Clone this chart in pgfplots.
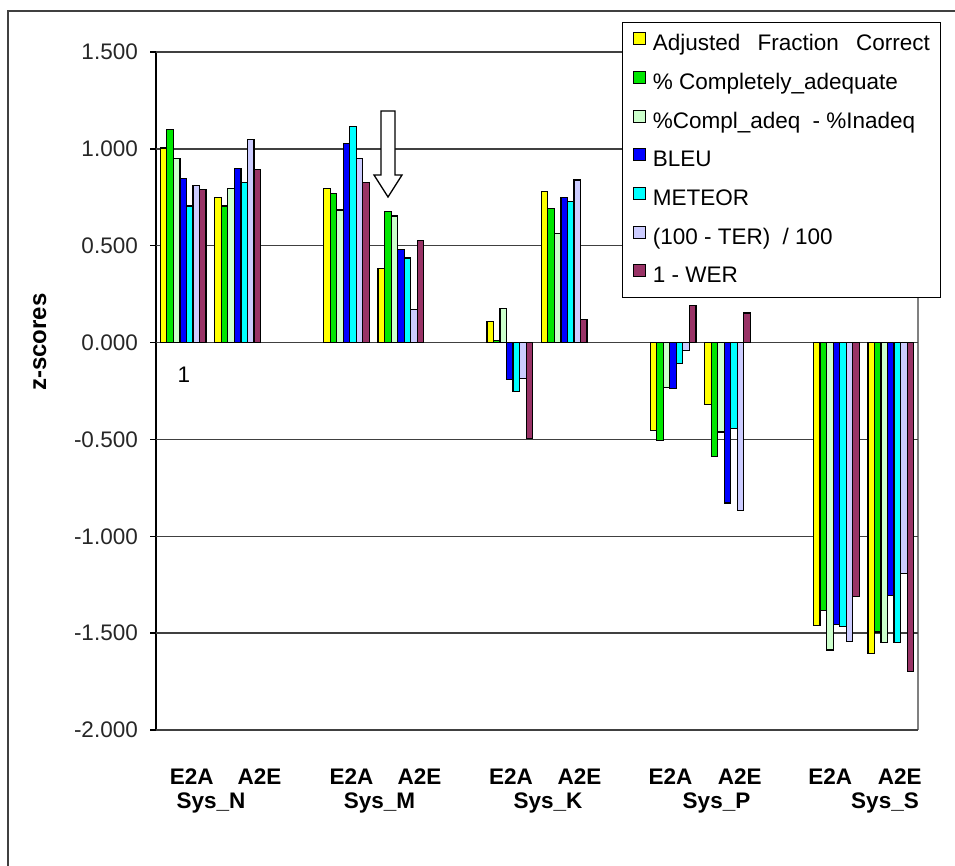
\documentclass[border=0pt]{standalone}
\usepackage{fontspec}
\setmainfont{Liberation Sans}
\usepackage{graphicx}
\usepackage{pgfplots}
\usepackage{pgfplotstable}
\pgfplotsset{compat=1.18}
\newcommand\F{\fontsize{22.5}{27}\selectfont}
\definecolor{cA}{HTML}{FFFF00}
\definecolor{cB}{HTML}{00E600}
\definecolor{cC}{HTML}{CCFFCC}
\definecolor{cD}{HTML}{0000FF}
\definecolor{cE}{HTML}{00FFFF}
\definecolor{cF}{HTML}{CCCCFF}
\definecolor{cG}{HTML}{993366}
\definecolor{gridc}{HTML}{404040}
\pgfplotstableread{
x   s1     s2     s3     s4     s5     s6     s7
0   1.004  1.100  0.952  0.847  0.705  0.809  0.789
1   0.749  0.705  0.795  0.900  0.825  1.048  0.893
3   0.794  0.770  0.684  1.027  1.117  0.952  0.825
4   0.383  0.675  0.653  0.481  0.437  0.169  0.526
6   0.107  0.010  0.174 -0.192 -0.251 -0.186 -0.496
7   0.780  0.691  0.564  0.749  0.728  0.839  0.120
9  -0.454 -0.507 -0.230 -0.237 -0.110 -0.041  0.191
10 -0.320 -0.588 -0.462 -0.828 -0.445 -0.866  0.153
12 -1.460 -1.385 -1.587 -1.455 -1.467 -1.544 -1.312
13 -1.605 -1.494 -1.550 -1.306 -1.550 -1.193 -1.700
}\datatable
\begin{document}
\begin{tikzpicture}
% outer frame
\draw[gridc, line width=1.3pt] (8pt,-11pt) rectangle (970pt,-880pt);
% axis lines (drawn before the legend)
\draw[black, line width=1.3pt] (156pt,-52pt) -- (156pt,-730pt);
\draw[black!50, line width=1.3pt] (918pt,-52pt) -- (918pt,-730pt);
\begin{axis}[
  at={(156pt,-730pt)}, anchor=south west,
  scale only axis, width=762pt, height=678pt,
  xmin=-0.5, xmax=13.5, ymin=-2, ymax=1.5,
  ytick={-2,-1.5,-1,-0.5,0,0.5,1,1.5},
  xtick=\empty,
  axis line style={draw=none},
  ymajorgrids, grid style={draw=gridc, line width=1.3pt},
  ytick pos=left, tick align=outside, major tick length=6pt,
  tick style={draw=black, line width=1.3pt},
  /pgf/number format/assume math mode=true,
  yticklabel={\pgfmathprintnumber[fixed, fixed zerofill, precision=3]{\tick}},
  yticklabel style={font=\F, inner sep=0pt, xshift=-12pt, text=black!85},
  ybar=0pt, bar width=0.12,
  every axis plot/.append style={draw=black, line width=1.2pt},
  legend style={at={(0.6115,1.0442)}, anchor=north west, draw=black,
    line width=1.2pt, fill=white, font=\F, inner xsep=10.7pt, inner ysep=9.5pt,
    row sep=15.2pt, nodes={inner sep=0pt, text height=17pt, text depth=5pt}},
  legend cell align=left,
  legend image code/.code={\draw[#1, line width=1pt] (0pt,0pt) rectangle (12pt,12pt); \path (18.5pt,0pt);},
]
\addplot[fill=cA] table[x=x, y=s1] {\datatable};
\addplot[fill=cB] table[x=x, y=s2] {\datatable};
\addplot[fill=cC] table[x=x, y=s3] {\datatable};
\addplot[fill=cD] table[x=x, y=s4] {\datatable};
\addplot[fill=cE] table[x=x, y=s5] {\datatable};
\addplot[fill=cF] table[x=x, y=s6] {\datatable};
\addplot[fill=cG] table[x=x, y=s7] {\datatable};
\legend{Adjusted\hspace{11pt} Fraction\hspace{11pt} Correct, \% Completely\_adequate, \%Compl\_adeq\hspace{6pt} - \%Inadeq, BLEU, METEOR, (100 - TER)\hspace{6pt} / 100, 1 - WER}
\end{axis}
% arrow annotation
\draw[black, line width=1.3pt, fill=white] (381pt,-111pt) -- (395pt,-111pt) -- (395pt,-175pt) -- (402pt,-175pt) -- (388pt,-197pt) -- (374pt,-175pt) -- (381pt,-175pt) -- cycle;
% labels
\node[font=\F, anchor=base] at (184pt,-382pt) {1};
\node[font=\fontsize{24}{28}\selectfont\bfseries, rotate=90, anchor=base] at (46pt,-342pt) {z-scores};
\foreach \k/\s in {0/N,1/M,2/K,3/P,4/S}{
  \node[font=\F\bfseries, anchor=base] at ({191.8pt+159.6pt*\k},-784pt) {E2A};
  \node[font=\F\bfseries, anchor=base] at ({259.4pt+160.1pt*\k},-784pt) {A2E};
  \node[font=\F\bfseries, anchor=base] at ({211pt+168.5pt*\k},-808pt) {Sys\_\s};
}
\pgfresetboundingbox
\useasboundingbox (0pt,0pt) rectangle (955pt,-866pt);
\end{tikzpicture}
\end{document}
